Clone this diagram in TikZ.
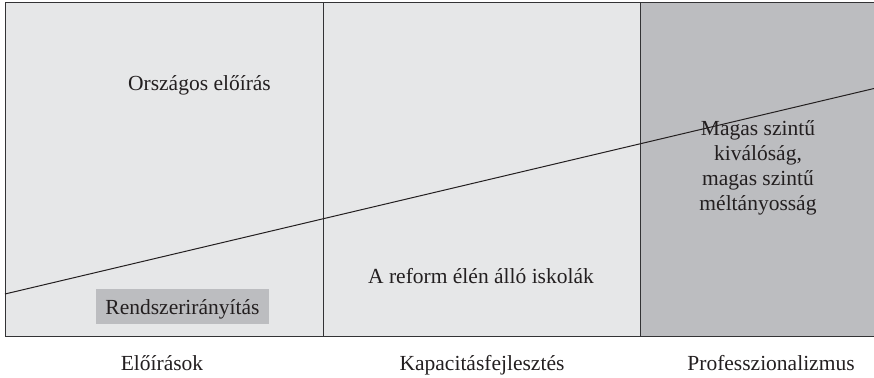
\documentclass[tikz,border=0pt]{standalone}
\usepackage{fontspec}
\setmainfont{Liberation Serif}
\definecolor{panellight}{HTML}{E6E7E8}
\definecolor{paneldark}{HTML}{BCBDC0}
\definecolor{framecol}{HTML}{333335}
\definecolor{txtcol}{HTML}{231F20}
\begin{document}
\begin{tikzpicture}[x=1pt,y=-1pt,
  lbl/.style={font=\fontsize{21.5}{25}\selectfont, text=txtcol, inner sep=0pt, anchor=base},
  frame/.style={draw=framecol, line width=1pt}]
\useasboundingbox (0,0) rectangle (874,377);
% panels
\fill[panellight] (5,3) rectangle (640,336);
\fill[paneldark] (640,3) rectangle (874,336);
% frame
\draw[frame] (874,3) -- (5,3) -- (5,336) -- (874,336);
\draw[frame, line width=0.8pt] (323,3) -- (323,336);
\draw[frame, line width=0.8pt] (640,3) -- (640,336);
% gray box
\node[fill=paneldark, minimum width=173pt, minimum height=35pt, inner sep=0pt] (rbox) at (182.5,306.5) {};
\node[lbl] (rendszer) at (182.5,314) {Rendszerirányítás};
% texts
\node[lbl] (orszagos) at (199.5,90.5) {Országos előírás};
\node[lbl] (reform) at (481,283) {A reform élén álló iskolák};
\node[lbl, align=center, anchor=base] (magas) at (758,210) {Magas szintű\\kiválóság,\\magas szintű\\méltányosság};
% diagonal
\coordinate (dstart) at (5,294);
\coordinate (dend) at (874,88.5);
\draw[draw=txtcol, line width=1pt] (dstart) -- (dend);
% bottom labels
\node[lbl] (eloirasok) at (162,370.5) {Előírások};
\node[lbl] (kapacitas) at (482,370.5) {Kapacitásfejlesztés};
\node[lbl] (prof) at (771,370.5) {Professzionalizmus};
\end{tikzpicture}
\end{document}
